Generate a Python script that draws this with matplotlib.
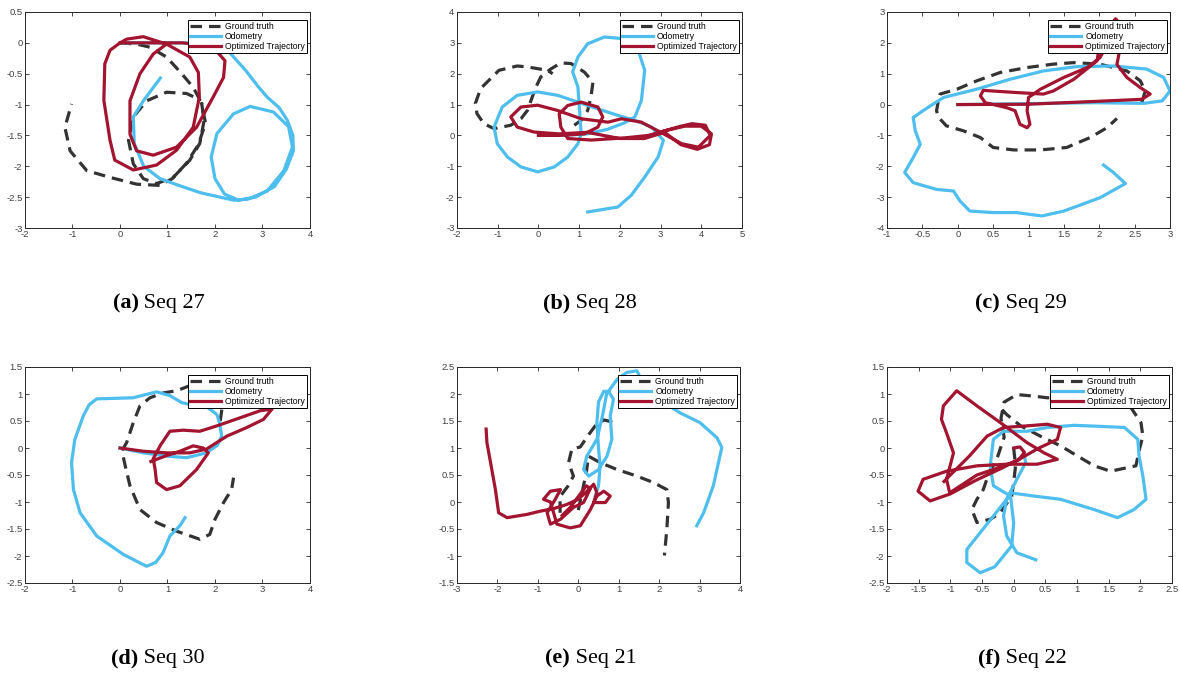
import matplotlib
matplotlib.use('Agg')
import matplotlib.pyplot as plt
import numpy as np

plt.rcParams['font.family'] = ['Liberation Sans', 'DejaVu Sans']
plt.rcParams['axes.unicode_minus'] = False

nan = np.nan

# ---- Seq 27 ----
gt27_x = [0.0, 0.35, 0.63, 0.98, 1.3, 1.54, 1.68, 1.4, 0.98, 0.56, 0.28, 0.18, 0.28, 0.49, 0.77, 1.12, 1.47, 1.68, 1.77, 1.72, 1.8, 1.65, 1.4, 1.1, 0.84, 0.35, -0.21, -0.7, -1.05, -1.16, -1.02]
gt27_y = [0.0, -0.02, -0.07, -0.23, -0.5, -0.72, -0.92, -0.82, -0.8, -0.94, -1.2, -1.58, -1.96, -2.2, -2.28, -2.18, -1.9, -1.63, -1.26, -0.98, -1.3, -1.65, -1.95, -2.2, -2.31, -2.29, -2.18, -2.07, -1.75, -1.37, -0.99]
od27_x = [0.0, 0.7, 1.4, 1.9, 2.3, 2.65, 2.9, 3.1, 3.35, 3.52, 3.64, 3.65, 3.5, 3.25, 2.85, 2.5, 2.2, 2.0, 1.92, 2.04, 2.39, 2.74, 3.23, 3.55, 3.63, 3.45, 3.1, 2.7, 2.4, 1.7, 1.2, 0.84, 0.5, 0.3, 0.28, 0.5, 0.85]
od27_y = [0.0, 0.0, 0.0, -0.05, -0.15, -0.45, -0.7, -0.88, -1.05, -1.25, -1.5, -1.75, -2.05, -2.33, -2.5, -2.55, -2.45, -2.2, -1.85, -1.47, -1.15, -1.03, -1.12, -1.36, -1.69, -2.07, -2.4, -2.53, -2.55, -2.43, -2.3, -2.2, -2.0, -1.63, -1.2, -0.93, -0.57]
op27_x = [0.0, 0.14, 0.49, 0.98, 1.47, 1.65, 1.67, 1.54, 1.19, 0.77, 0.28, -0.11, -0.21, -0.34, -0.32, -0.21, 0.0, 0.7, 1.33, 1.96, 2.21, 2.18, 1.96, 1.61, 1.19, 0.7, 0.35, 0.21, 0.21, 0.42, 0.7, 0.98]
op27_y = [0.0, 0.06, 0.1, -0.02, -0.23, -0.48, -0.88, -1.37, -1.74, -1.98, -2.06, -1.9, -1.58, -0.93, -0.34, -0.12, 0.0, 0.0, 0.0, -0.07, -0.29, -0.56, -0.88, -1.37, -1.69, -1.82, -1.75, -1.48, -0.94, -0.5, -0.18, -0.02]

# ---- Seq 28 ----
gt28_x = [0.88, 1.05, 1.21, 1.29, 1.34, 1.13, 0.8, 0.55, 0.3, 0.06, -0.06, -0.15, -0.27, -0.43, -0.68, -1.09, -1.34, -1.51, -1.55, -1.42, -0.97, -0.52, -0.27, 0.22, 0.35]
gt28_y = [0.33, 0.49, 0.81, 1.25, 1.73, 2.05, 2.33, 2.35, 2.15, 1.9, 1.57, 1.25, 0.81, 0.54, 0.33, 0.22, 0.38, 0.71, 1.03, 1.52, 2.11, 2.25, 2.22, 2.11, 2.0]
od28_x = [0.0, 0.6, 1.2, 1.7, 2.1, 2.37, 2.53, 2.61, 2.45, 2.04, 1.62, 1.21, 0.97, 0.84, 0.97, 1.01, 1.05, 0.97, 0.72, 0.39, -0.02, -0.43, -0.76, -1.01, -1.09, -0.89, -0.52, -0.02, 0.47, 0.97, 1.46, 1.95, 2.37, 2.78, 3.07, 2.94, 2.61, 2.28, 1.95, 1.21]
od28_y = [0.0, 0.0, 0.05, 0.2, 0.4, 0.6, 1.14, 2.11, 2.76, 3.14, 3.19, 2.97, 2.54, 2.06, 1.57, 0.81, 0.05, -0.27, -0.7, -1.02, -1.18, -1.02, -0.7, -0.27, 0.27, 0.92, 1.3, 1.41, 1.3, 1.08, 0.86, 0.65, 0.49, 0.27, -0.16, -0.7, -1.35, -1.94, -2.32, -2.48]
op28_x = [0.0, 0.5, 1.13, 1.46, 1.58, 1.46, 1.05, 0.72, 0.51, 0.55, 0.72, 1.3, 2.12, 2.7, 3.1, 3.5, 3.77, 4.1, 4.22, 3.93, 3.52, 3.02, 2.53, 2.04, 1.71, 1.05, 0.47, -0.02, -0.43, -0.68, -0.52, -0.11, 0.5, 1.2, 2.0, 2.6, 3.1, 3.5, 3.9, 4.2, 4.25, 4.0, 3.6, 3.1]
op28_y = [0.0, 0.0, 0.05, 0.27, 0.6, 0.92, 1.08, 0.97, 0.7, 0.27, -0.1, -0.15, -0.08, 0.0, 0.15, 0.3, 0.38, 0.33, 0.0, -0.38, -0.27, 0.09, 0.43, 0.54, 0.43, 0.54, 0.81, 0.98, 0.92, 0.6, 0.27, 0.11, 0.05, 0.1, -0.1, -0.1, 0.1, -0.3, -0.45, -0.3, 0.05, 0.3, 0.3, 0.15]

# ---- Seq 29 ----
gt29_x = [2.6, 2.65, 2.58, 2.39, 2.01, 1.64, 1.35, 0.98, 0.6, 0.27, -0.01, -0.25, -0.28, -0.3, -0.27, -0.16, 0.08, 0.32, 0.5, 0.79, 1.17, 1.54, 1.87, 2.11, 2.25]
gt29_y = [0.05, 0.44, 0.77, 1.09, 1.31, 1.36, 1.31, 1.2, 1.04, 0.77, 0.5, 0.34, 0.05, -0.2, -0.42, -0.69, -0.85, -1.07, -1.39, -1.47, -1.47, -1.39, -1.07, -0.75, -0.45]
od29_x = [0.0, 1.0, 1.92, 2.63, 2.89, 3.0, 2.91, 2.67, 2.2, 1.68, 1.21, 0.74, 0.27, -0.2, -0.44, -0.63, -0.6, -0.53, -0.63, -0.75, -0.63, -0.3, -0.06, 0.03, 0.17, 0.5, 0.83, 1.19, 1.5, 2.01, 2.37, 2.2, 2.06]
od29_y = [0.0, 0.03, 0.06, 0.04, 0.12, 0.44, 0.88, 1.15, 1.25, 1.23, 1.09, 0.82, 0.5, 0.23, -0.12, -0.42, -0.85, -1.29, -1.72, -2.2, -2.53, -2.75, -2.8, -3.12, -3.45, -3.5, -3.5, -3.61, -3.45, -3.02, -2.56, -2.2, -1.96]
op29_x = [0.0, 0.98, 1.92, 2.6, 2.72, 2.58, 2.39, 2.25, 2.3, 2.35, 2.23, 2.1, 2.0, 1.97, 1.64, 1.35, 1.21, 0.83, 0.36, 0.32, 0.39, 0.69, 0.81, 0.88, 0.98, 1.02, 0.98, 1.0, 1.17, 1.5, 1.83, 2.01, 2.1]
op29_y = [0.0, 0.01, 0.1, 0.17, 0.34, 0.55, 0.88, 1.3, 1.9, 2.5, 2.78, 2.4, 1.9, 1.42, 0.82, 0.44, 0.34, 0.39, 0.46, 0.28, 0.06, -0.1, -0.2, -0.64, -0.75, -0.64, -0.2, 0.23, 0.5, 0.88, 1.2, 1.52, 1.9]

# ---- Seq 30 ----
gt30_x = [2.11, 2.15, 1.9, 1.6, 1.37, 1.19, 0.91, 0.63, 0.42, 0.28, 0.14, 0.04, 0.11, 0.21, 0.42, 0.77, 1.19, 1.68, 1.89, 2.0, 2.18, 2.35, 2.39]
gt30_y = [0.5, 0.75, 1.05, 1.2, 1.12, 1.06, 1.02, 0.93, 0.78, 0.47, 0.1, -0.05, -0.33, -0.7, -1.14, -1.38, -1.54, -1.69, -1.6, -1.32, -1.01, -0.77, -0.55]
od30_x = [0.0, 0.49, 1.0, 1.4, 1.82, 2.05, 2.14, 2.1, 2.04, 1.8, 1.5, 1.3, 1.05, 0.77, 0.5, 0.28, -0.1, -0.49, -0.65, -0.77, -0.95, -1.02, -0.98, -0.84, -0.49, 0.07, 0.4, 0.56, 0.75, 0.9, 1.05, 1.26, 1.37]
od30_y = [0.0, -0.09, -0.15, -0.18, -0.09, 0.05, 0.22, 0.45, 0.62, 0.78, 0.8, 0.84, 0.97, 1.04, 0.98, 0.93, 0.92, 0.91, 0.8, 0.6, 0.16, -0.27, -0.77, -1.2, -1.63, -1.97, -2.12, -2.19, -2.12, -1.95, -1.63, -1.44, -1.29]
op30_x = [0.0, 0.49, 0.98, 1.47, 1.82, 2.25, 2.67, 3.02, 3.2, 2.95, 2.53, 2.04, 1.68, 1.33, 1.05, 0.85, 0.7, 0.74, 0.77, 0.98, 1.26, 1.61, 1.86, 1.75, 1.54, 1.26, 0.95, 0.65]
op30_y = [0.0, -0.06, -0.09, -0.09, -0.02, 0.22, 0.38, 0.53, 0.72, 0.69, 0.56, 0.41, 0.31, 0.33, 0.31, 0.05, -0.2, -0.4, -0.64, -0.77, -0.7, -0.4, -0.09, 0.0, 0.04, -0.06, -0.15, -0.25]

# ---- Seq 21 ----
gt21_x = [-0.45, -0.45, -0.25, -0.12, -0.24, -0.16, 0.05, 0.26, 0.42, 0.63, 0.91, nan, 0.0, 0.1, 0.2, 0.25, 0.54, 0.96, 1.45, 1.86, 2.19, 2.23, 2.19, 2.13]
gt21_y = [-0.2, 0.1, 0.3, 0.48, 0.73, 0.98, 1.02, 1.25, 1.41, 1.52, 1.47, nan, -0.15, 0.2, 0.55, 0.85, 0.73, 0.6, 0.48, 0.36, 0.23, -0.01, -0.51, -0.99]
od21_x = [0.42, 0.5, 0.54, 0.5, 0.46, 0.5, 0.63, 0.75, 0.87, 0.79, 0.83, 0.71, 0.5, 0.26, 0.13, 0.21, 0.46, 0.6, 0.7, 0.96, 1.2, 1.45, 1.6, 2.0, 2.52, 3.01, 3.43, 3.55, 3.34, 3.1, 2.93]
od21_y = [0.11, 0.3, 0.67, 1.0, 1.47, 1.85, 2.05, 2.05, 1.9, 1.59, 1.16, 0.85, 0.6, 0.48, 0.6, 0.85, 1.16, 1.6, 2.0, 2.27, 2.4, 2.43, 2.2, 1.9, 1.65, 1.47, 1.19, 1.01, 0.3, -0.2, -0.44]
op21_x = [-2.28, -2.26, -2.17, -2.05, -1.97, -1.76, -1.27, -0.94, -0.6, -0.3, 0.0, 0.26, 0.38, 0.46, 0.38, 0.67, 0.79, 0.63, 0.46, 0.3, 0.05, -0.2, -0.53, -0.61, -0.69, -0.86, -0.69, -0.44, -0.57, -0.77, -0.69, -0.44, -0.12, 0.13, 0.21, 0.3, 0.2, 0.0, -0.2, -0.4]
op21_y = [1.35, 1.1, 0.73, 0.23, -0.2, -0.29, -0.23, -0.17, -0.12, -0.05, 0.05, 0.23, 0.33, 0.17, -0.01, -0.01, 0.11, 0.2, 0.11, -0.14, -0.44, -0.48, -0.41, -0.2, 0.0, 0.05, 0.2, 0.23, 0.05, -0.2, -0.41, -0.32, -0.1, -0.01, 0.11, 0.25, 0.3, 0.1, -0.1, -0.25]

# ---- Seq 22 ----
gt22_x = [0.0, 0.03, 0.0, -0.03, -0.21, -0.37, -0.58, -0.66, -0.58, -0.48, -0.4, -0.25, -0.15, -0.2, -0.15, 0.05, 0.32, 0.53, 1.0, 1.5, 1.85, 2.01, 2.04, 1.98, 1.93, 1.53, 1.27, 1.01, 0.74, 0.42, 0.11, -0.11, -0.24]
gt22_y = [0.0, -0.33, -0.64, -0.89, -1.2, -1.32, -1.38, -1.14, -0.95, -0.77, -0.5, -0.15, 0.2, 0.55, 0.85, 0.99, 0.96, 0.93, 0.93, 0.85, 0.75, 0.47, 0.22, -0.05, -0.33, -0.43, -0.33, -0.15, 0.04, 0.22, 0.41, 0.62, 0.78]
od22_x = [0.16, 0.19, 0.05, -0.11, -0.32, -0.53, -0.74, -0.74, -0.53, -0.3, -0.16, -0.03, 0.0, -0.05, -0.32, -0.37, -0.32, -0.16, 0.21, 0.53, 0.95, 1.38, 1.75, 1.96, 1.98, 2.04, 2.09, 1.9, 1.64, 1.27, 0.74, 0.32, -0.05, -0.11, -0.16, -0.11, 0.05, 0.35]
od22_y = [-0.09, -0.27, -0.58, -0.95, -1.26, -1.57, -1.88, -2.12, -2.31, -2.2, -2.0, -1.81, -1.38, -0.89, -0.7, -0.33, 0.16, 0.31, 0.31, 0.38, 0.42, 0.4, 0.38, 0.16, -0.15, -0.52, -0.95, -1.14, -1.29, -1.14, -0.95, -0.89, -0.83, -0.95, -1.26, -1.63, -1.94, -2.07]
op22_x = [0.0, 0.1, 0.17, 0.08, -0.2, -0.58, -1.01, -1.06, -0.95, -1.06, -1.14, -1.11, -0.9, -0.58, -0.21, 0.21, 0.48, 0.69, 0.37, -0.11, -0.58, -1.06, -1.43, -1.51, -1.32, -1.0, -0.6, -0.2, 0.1, 0.4, 0.69, 0.74, 0.53, 0.21, -0.16, -0.42, -0.7, -1.0, -1.1]
op22_y = [0.0, 0.02, -0.08, -0.22, -0.35, -0.5, -0.83, -0.58, -0.09, 0.28, 0.53, 0.78, 1.06, 0.78, 0.47, 0.1, -0.09, -0.21, -0.3, -0.3, -0.33, -0.43, -0.58, -0.8, -0.98, -0.85, -0.6, -0.38, -0.2, 0.0, 0.16, 0.38, 0.44, 0.41, 0.38, 0.22, -0.15, -0.5, -0.62]

panels = [
    ('a', 'Seq 27', gt27_x, gt27_y, od27_x, od27_y, op27_x, op27_y, (-2, 4, 1), (-3, 0.5, 0.5)),
    ('b', 'Seq 28', gt28_x, gt28_y, od28_x, od28_y, op28_x, op28_y, (-2, 5, 1), (-3, 4, 1)),
    ('c', 'Seq 29', gt29_x, gt29_y, od29_x, od29_y, op29_x, op29_y, (-1, 3, 0.5), (-4, 3, 1)),
    ('d', 'Seq 30', gt30_x, gt30_y, od30_x, od30_y, op30_x, op30_y, (-2, 4, 1), (-2.5, 1.5, 0.5)),
    ('e', 'Seq 21', gt21_x, gt21_y, od21_x, od21_y, op21_x, op21_y, (-3, 4, 1), (-1.5, 2.5, 0.5)),
    ('f', 'Seq 22', gt22_x, gt22_y, od22_x, od22_y, op22_x, op22_y, (-2, 2.5, 0.5), (-2.5, 1.5, 0.5)),
]

# axes boxes in pixels: left, right, top, bottom
boxes = [(25, 310, 12, 228), (457, 742, 12, 228), (887, 1170, 12, 228),
         (25, 310, 367, 583), (457, 740, 367, 583), (887, 1172, 367, 583)]

W, H = 1180, 675
fig = plt.figure(figsize=(W / 100, H / 100), dpi=100)

c_gt = '#333333'
c_od = '#4DBEEE'
c_op = '#A2142F'

for (tag, name, gx, gy, ox, oy, px, py, xl, yl), (l, r, t, b) in zip(panels, boxes):
    ax = fig.add_axes([l / W, 1 - b / H, (r - l) / W, (b - t) / H])
    ax.plot(gx, gy, color=c_gt, lw=2.3, dashes=(3.6, 2.2), label='Ground truth')
    ax.plot(ox, oy, color=c_od, lw=2.3, solid_joinstyle='round', label='Odometry')
    ax.plot(px, py, color=c_op, lw=2.3, solid_joinstyle='round', label='Optimized Trajectory')
    ax.set_xlim(xl[0], xl[1])
    ax.set_ylim(yl[0], yl[1])
    xt = np.arange(xl[0], xl[1] + 1e-9, xl[2])
    yt = np.arange(yl[0], yl[1] + 1e-9, yl[2])
    ax.set_xticks(xt)
    ax.set_yticks(yt)
    ax.set_xticklabels(['%g' % v for v in xt])
    ax.set_yticklabels(['%g' % v for v in yt])
    ax.tick_params(direction='in', length=3, width=0.6, labelsize=6.8,
                   labelcolor='0.25', color='0.15', top=True, right=True, pad=1.8)
    for s in ax.spines.values():
        s.set_linewidth(0.7)
        s.set_color('0.15')
    leg = ax.legend(loc='upper right', bbox_to_anchor=(0.99, 0.965), fontsize=6.2,
                    handlelength=3.6, handletextpad=0.5, labelspacing=0.15,
                    borderpad=0.25, borderaxespad=0, fancybox=False, framealpha=1)
    leg.get_frame().set_edgecolor('black')
    leg.get_frame().set_linewidth(0.7)

    cx = (l + r) / 2 - 29
    cy = 308 if t < 100 else 663
    fig.text(cx / W, 1 - cy / H, '(%s)' % tag, ha='right', va='baseline',
             fontsize=16, fontweight='bold', family='Liberation Serif')
    fig.text(cx / W, 1 - cy / H, ' ' + name, ha='left', va='baseline',
             fontsize=16, family='Liberation Serif')

fig.savefig('out.png', dpi=100)
